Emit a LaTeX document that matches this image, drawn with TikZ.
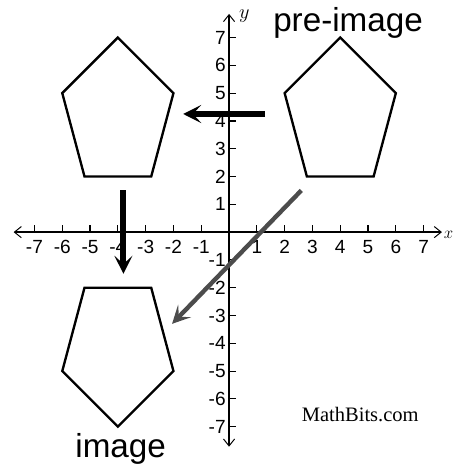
\documentclass[tikz,border=0pt]{standalone}
\usepackage{fontspec}
\setmainfont{Liberation Sans}
\newfontfamily\bitsfont{Liberation Serif}
\usetikzlibrary{positioning,arrows.meta}

\begin{document}
\begin{tikzpicture}[>={Stealth[length=6.5mm,width=6.5mm,inset=3mm]},
  pent/.style={line width=2.4pt,line join=miter},
  axisline/.style={line width=1.5pt,{Straight Barb[length=2.5mm,width=4mm,line width=1pt]}-{Straight Barb[length=2.5mm,width=4mm,line width=1pt]}},
  tickmark/.style={line width=1.2pt},
  num/.style={font=\fontsize{19.5}{19.5}\selectfont,inner sep=1pt},
  move/.style={line width=6pt,->},
  word/.style={font=\fontsize{34}{34}\selectfont,inner sep=0pt}]
\useasboundingbox (-8.24,-8.45) rectangle (8.17,8.35);

% axes
\coordinate (xl) at (-7.75,0);
\coordinate (xr) at (7.66,0);
\coordinate (yb) at (0,-7.72);
\coordinate (yt) at (0,7.85);
\draw[axisline] (xl) -- (xr);
\draw[axisline] (yb) -- (yt);
\node[anchor=west,inner sep=0pt,font=\fontsize{18}{18}\selectfont] (xlab) at (7.72,-0.1) {$x$};
\node[font=\fontsize{20}{20}\selectfont] (ylab) at (0.55,7.78) {$y$};

% ticks and numbers
\foreach \i in {-7,...,-1,1,2,...,7} {
  \draw[tickmark] (\i,0) -- (\i,0.26);
  \draw[tickmark] (0,\i) -- (0.26,\i);
  \node[num,anchor=north] (nx\i) at (\i,-0.25) {\i};
  \node[num,anchor=east] (ny\i) at (-0.08,\i) {\i};
}

% pentagons
\draw[pent] (4,7) -- (6,5) -- (5.2,2) -- (2.8,2) -- (2,5) -- cycle;
\draw[pent] (-4,7) -- (-2,5) -- (-2.8,2) -- (-5.2,2) -- (-6,5) -- cycle;
\draw[pent] (-5.2,-2) -- (-2.8,-2) -- (-2,-5) -- (-4,-7) -- (-6,-5) -- cycle;

% labels
\node[word,anchor=base] (pre) at (4.28,7.2) {pre-image};
\node[word,anchor=base] (img) at (-3.9,-8.1) {image};
\node[anchor=base,font=\bitsfont\fontsize{21}{21}\selectfont] (bits) at (4.72,-6.82) {MathBits.com};

% transformation arrows
\coordinate (r1) at (1.3,4.25);
\coordinate (r2) at (-1.65,4.25);
\coordinate (t1) at (-3.8,1.5);
\coordinate (t2) at (-3.8,-1.5);
\coordinate (d1) at (2.6,1.5);
\coordinate (d2) at (-2.05,-3.3);
\draw[move] (r1) -- (r2);
\draw[move] (t1) -- (t2);
\draw[move,black!70,line width=4.5pt] (d1) -- (d2);
\end{tikzpicture}
\end{document}
